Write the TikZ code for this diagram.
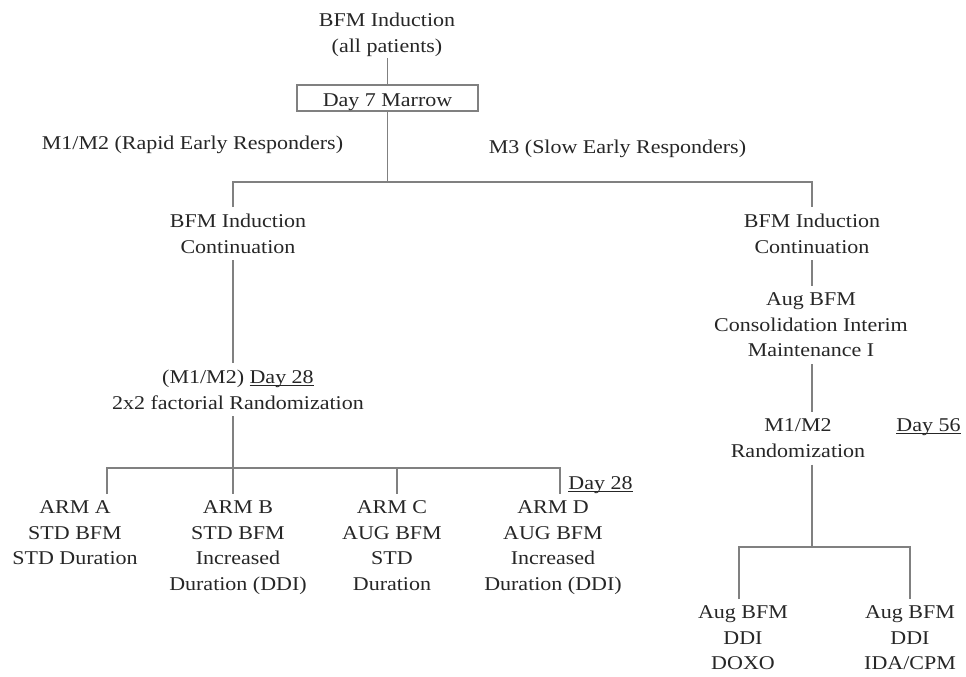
\documentclass[tikz,border=0pt]{standalone}
\usepackage{fontspec}
\setmainfont{Liberation Serif}[FakeStretch=1.128]
\definecolor{txtc}{HTML}{262626}
\definecolor{lnc}{HTML}{808080}
\newcommand{\dayul}[1]{\setbox0=\hbox{#1}\rlap{\rule[-2pt]{\wd0}{0.9pt}}\box0}
\begin{document}
\begin{tikzpicture}[x=1pt,y=-1pt,
  every node/.style={font=\fontsize{19.5}{25.5}\selectfont, text=txtc},
  txt/.style={inner sep=0pt, outer sep=7pt, align=center, anchor=north},
  lbl/.style={inner sep=0pt, anchor=base},
  link/.style={draw=lnc, line width=1.2pt}]
\useasboundingbox (0,0) rectangle (966,677);

% nodes
\node[txt, outer sep=2pt] (top) at (387,11) {BFM Induction\\(all patients)};
\node[draw=lnc, line width=1.1pt, inner sep=0pt, minimum width=181pt, minimum height=26pt,
      text height=21pt, text depth=4pt] (marrow) at (387.5,98) {Day 7 Marrow};
\node[lbl] (rapid) at (192.5,149.5) {M1/M2 (Rapid Early Responders)};
\node[lbl] (slow) at (617.5,153.5) {M3 (Slow Early Responders)};

\node[txt] (lbi) at (238,207) {BFM Induction\\Continuation};
\node[txt] (lrand) at (238,363) {(M1/M2) \dayul{Day 28}\\2x2 factorial Randomization};
\node[txt] (armA) at (75,494) {ARM A\\STD BFM\\STD Duration};
\node[txt] (armB) at (238,494) {ARM B\\STD BFM\\Increased\\Duration (DDI)};
\node[txt] (armC) at (392,494) {ARM C\\AUG BFM\\STD\\Duration};
\node[txt] (armD) at (553,494) {ARM D\\AUG BFM\\Increased\\Duration (DDI)};
\node[lbl] (day28) at (600.5,489.5) {\dayul{Day 28}};

\node[txt] (rbi) at (812,207) {BFM Induction\\Continuation};
\node[txt] (aug) at (811,286) {Aug BFM\\Consolidation Interim\\Maintenance I};
\node[txt] (m12) at (798,412) {M1/M2\\Randomization};
\node[lbl] (day56) at (928.5,431.5) {\dayul{Day 56}};
\node[txt] (doxo) at (743,599) {Aug BFM\\DDI\\DOXO};
\node[txt] (ida) at (910,599) {Aug BFM\\DDI\\IDA/CPM};

% junction coordinates
\coordinate (JL) at (233,182);
\coordinate (JR) at (812,182);
\coordinate (HA) at (107,468);
\coordinate (HB) at (233,468);
\coordinate (HC) at (397,468);
\coordinate (HD) at (560,468);
\coordinate (RJ) at (812,547);
\coordinate (RL) at (739,547);
\coordinate (RR) at (910,547);

% connectors
\draw[link] (top.south -| marrow.north) -- (marrow.north);
\draw[link] (marrow.south) -- (marrow.south |- JL);
\draw[link] (lbi.north -| JL) -- (JL) -- (JR) -- (rbi.north -| JR);
\draw[link] (lbi.south -| JL) -- (lrand.north -| JL);
\draw[link] (lrand.south -| HB) -- (HB);
\draw[link] (armA.north -| HA) -- (HA) -- (HD) -- (armD.north -| HD);
\draw[link] (HB) -- (armB.north -| HB);
\draw[link] (HC) -- (armC.north -| HC);
\draw[link] (rbi.south -| JR) -- (aug.north -| JR);
\draw[link] (aug.south -| JR) -- (m12.north -| JR);
\draw[link] (m12.south -| RJ) -- (RJ);
\draw[link] (doxo.north -| RL) -- (RL) -- (RR) -- (ida.north -| RR);
\end{tikzpicture}
\end{document}
